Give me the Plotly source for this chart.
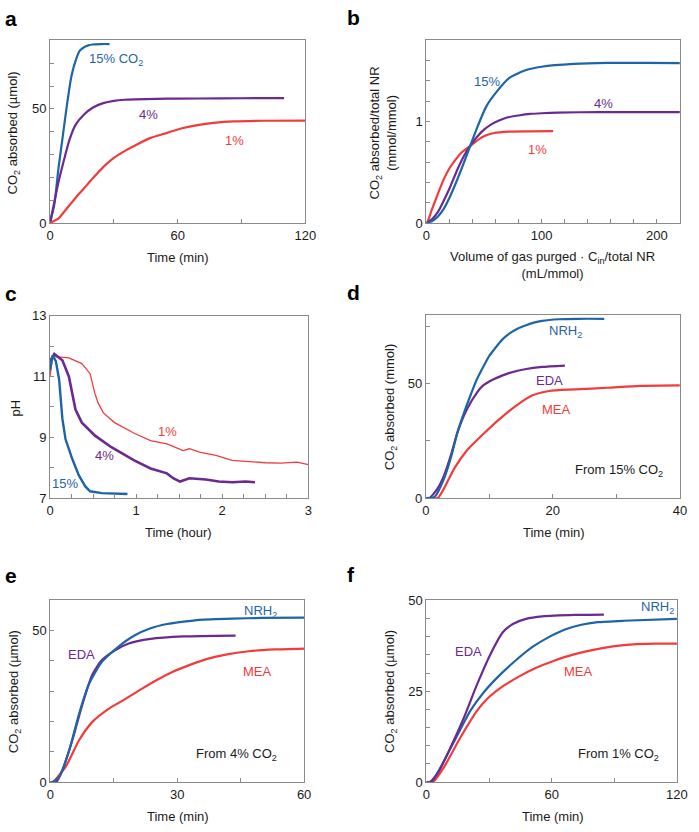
import plotly.graph_objects as go

W, H = 699, 832
BLUE = "#1f64a6"
PURPLE = "#6a2a8f"
RED = "#f23b3b"
FONT = "Liberation Sans, Arial, sans-serif"

# ---------------- Panel a ----------------
a_t15 = [0, 2, 4, 6, 8, 10, 12, 14, 16, 18, 20, 24, 28]
a_v15 = [0, 8, 24, 38, 52, 64, 71, 75.5, 77, 77.8, 78.2, 78.4, 78.4]
a_t4 = [0, 2, 4, 6, 9, 12, 16, 20, 25, 30, 35, 40, 50, 60, 80, 100, 110]
a_v4 = [0, 9, 18, 25.5, 36, 43, 47.5, 50.5, 52.5, 53.5, 54, 54.2, 54.4, 54.5, 54.6, 54.7, 54.7]
a_t1 = [0, 4, 8, 12, 16, 20, 25, 30, 35, 40, 47, 55, 62, 70, 78, 86, 100, 120]
a_v1 = [0, 2, 6.5, 11, 15.2, 19.5, 24.5, 28.5, 31.5, 34, 37.2, 39.5, 41.5, 43, 44, 44.5, 44.8, 44.9]

# ---------------- Panel b ----------------
b_x15 = [0, 5, 10, 15, 20, 25, 30, 38, 44, 52, 60, 72, 86, 100, 128, 157, 190, 220]
b_y15 = [0, 0.02, 0.065, 0.14, 0.25, 0.38, 0.52, 0.76, 0.94, 1.15, 1.28, 1.43, 1.505, 1.54, 1.568, 1.578, 1.578, 1.575]
b_x4 = [0, 5, 10, 15, 20, 27, 33, 38, 44, 50, 56, 63, 70, 80, 90, 100, 114, 150, 220]
b_y4 = [0, 0.04, 0.11, 0.22, 0.34, 0.53, 0.67, 0.76, 0.85, 0.92, 0.97, 1.01, 1.04, 1.06, 1.075, 1.082, 1.088, 1.094, 1.094]
b_x1 = [0, 2, 4, 7, 10, 15, 20, 25, 30, 38, 46, 52, 58, 72, 90, 110]
b_y1 = [0, 0.04, 0.11, 0.2, 0.29, 0.43, 0.54, 0.62, 0.69, 0.76, 0.83, 0.865, 0.885, 0.9, 0.903, 0.905]

# ---------------- Panel c ----------------
c_t15 = [0, 0.03, 0.068, 0.106, 0.144, 0.18, 0.258, 0.334, 0.41, 0.466, 0.6, 0.79, 0.9]
c_p15 = [11.2, 11.69, 11.5, 10.9, 9.6, 8.94, 8.29, 7.75, 7.38, 7.22, 7.16, 7.13, 7.13]
c_t4 = [0, 0.05, 0.144, 0.22, 0.258, 0.296, 0.37, 0.523, 0.713, 0.978, 1.168, 1.358, 1.43, 1.51,
        1.62, 1.81, 1.96, 2.12, 2.27, 2.38]
c_p4 = [11.5, 11.74, 11.53, 10.99, 10.45, 9.91, 9.48, 9.05, 8.67, 8.24, 7.97, 7.81, 7.65, 7.54,
        7.65, 7.61, 7.54, 7.52, 7.54, 7.52]
c_t1 = [0, 0.03, 0.22, 0.37, 0.466, 0.52, 0.56, 0.62, 0.75, 0.978, 1.168, 1.358, 1.547, 1.62,
        1.737, 1.926, 2.116, 2.306, 2.5, 2.68, 2.87, 3.0]
c_p1 = [11.0, 11.66, 11.61, 11.42, 11.09, 10.45, 10.12, 9.8, 9.48, 9.13, 8.89, 8.78, 8.56, 8.62,
        8.51, 8.4, 8.24, 8.19, 8.16, 8.15, 8.18, 8.1]

# ---------------- Panel d ----------------
d_tN = [0, 1.4, 2.9, 4, 5, 6, 7, 8, 9.1, 10, 11.1, 12, 13.2, 14.5, 15.8, 17, 18.3, 20.9, 24, 28.1]
d_vN = [0, 0.5, 8.6, 18, 28.7, 37, 44.5, 51.5, 57.5, 62, 66, 69, 71.8, 74, 75.4, 76.5, 77.3, 78, 78.2, 78.2]
d_tE = [0, 0.6, 1.9, 2.9, 4, 5, 6.5, 8.06, 9, 10.6, 12, 13.2, 15.8, 18.3, 21.9]
d_vE = [0, 0, 4.3, 10, 19, 28.7, 38.8, 46, 49, 51.7, 53.4, 54.6, 56.3, 57.2, 57.8]
d_tM = [0, 1.9, 2.9, 4.5, 6.5, 9.1, 11.65, 14.2, 16.8, 19.4, 23.5, 28.6, 33.7, 40]
d_vM = [0, 0, 4.3, 12.9, 20.8, 28, 34.5, 40.2, 44.8, 46.7, 47.4, 48.1, 48.9, 49.1]

# ---------------- Panel e ----------------
e_tN = [0, 0.6, 2.2, 4.5, 6.8, 9.1, 12.2, 16, 19.9, 23.7, 27.6, 31.5, 35.3, 43, 50, 60]
e_vN = [0, 0, 1.9, 10.6, 22.5, 32.2, 39.7, 44.6, 48.4, 50.8, 52.2, 53, 53.6, 54, 54.2, 54.3]
e_tE = [0, 1.4, 2.9, 5.2, 7.6, 9.9, 12.2, 15.3, 18.4, 23.7, 31.5, 43.8]
e_vE = [0, 0, 4.1, 13.8, 25.7, 35.4, 40.3, 43.5, 45.7, 47.3, 48.1, 48.4]
e_tM = [0, 0.6, 3.7, 6.8, 9.9, 13.7, 17.6, 21.4, 25.3, 29.1, 33, 36.9, 41.5, 46.9, 53, 60]
e_vM = [0, 0, 5.2, 13.8, 19.8, 24.1, 27.3, 30.6, 33.8, 36.5, 38.7, 40.6, 42.1, 43.2, 43.8, 44.1]

# ---------------- Panel f ----------------
f_tE = [0, 1.6, 5.5, 11.7, 18, 24.2, 30.5, 36.7, 41.4, 47.7, 55.5, 71, 85]
f_vE = [0, 0, 2.5, 9.7, 17.8, 26.8, 35, 41.3, 43.5, 44.9, 45.6, 46, 46.1]
f_tN = [0, 2.3, 7, 14.8, 21, 27.3, 35.2, 43, 50.8, 58.6, 66.4, 74.2, 82, 94.5, 120]
f_vN = [0, 0, 4.3, 12.9, 19.6, 24.6, 29.5, 33.6, 37.2, 39.9, 42, 43.3, 44, 44.4, 44.9]
f_tM = [0, 3.1, 8.6, 16.4, 24.2, 28.9, 36.7, 44.5, 52.3, 60.2, 71, 83.6, 94.5, 110, 120]
f_vM = [0, 0, 4.3, 12.4, 19.6, 22.8, 26.4, 29.1, 31.4, 33.2, 35.2, 36.8, 37.7, 38.1, 38.1]

# ---------------- tick definitions (labelled ticks + minor tick step) ----------------
a_xt = [0, 60, 120]; a_xm = 30
a_yt = [0, 50]; a_ym = 10
b_xt = [0, 100, 200]; b_xm = 20
b_yt = [0, 1]; b_ym = 0.2
c_xt = [0, 1, 2, 3]; c_xm = 0.25
c_yt = [7, 9, 11, 13]; c_ym = 1
d_xt = [0, 20, 40]; d_xm = 10
d_yt = [0, 50]; d_ym = 25
e_xt = [0, 30, 60]; e_xm = 15
e_yt = [0, 50]; e_ym = 10
f_xt = [0, 60, 120]; f_xm = 30
f_yt = [0, 25, 50]; f_ym = 5


def px(x):
    return x / W


def py(y):
    return 1 - y / H


# panel pixel boxes (left, right, top, bottom)
boxes = {
    "a": (47, 308, 34, 220),
    "b": (431.7, 690.7, 34, 220),
    "c": (47, 311, 314.3, 500),
    "d": (431, 690.7, 313.3, 500),
    "e": (47.3, 306.7, 604.3, 789.3),
    "f": (431.7, 687.7, 604.3, 789.3),
}

fig = go.Figure()


def line(x, y, color, idx, width=2.2, shape="spline"):
    xa = "x" if idx == 1 else f"x{idx}"
    ya = "y" if idx == 1 else f"y{idx}"
    fig.add_trace(go.Scatter(x=x, y=y, mode="lines", xaxis=xa, yaxis=ya,
                             line=dict(color=color, width=width, shape=shape, smoothing=0.6),
                             showlegend=False, hoverinfo="skip"))


line(a_t15, a_v15, BLUE, 1); line(a_t4, a_v4, PURPLE, 1); line(a_t1, a_v1, RED, 1)
line(b_x1, b_y1, RED, 2); line(b_x4, b_y4, PURPLE, 2); line(b_x15, b_y15, BLUE, 2)
line(c_t1, c_p1, RED, 3, width=1.3, shape="linear")
line(c_t4, c_p4, PURPLE, 3, width=2.6, shape="linear")
line(c_t15, c_p15, BLUE, 3, width=2.4, shape="linear")
line(d_tM, d_vM, RED, 4); line(d_tE, d_vE, PURPLE, 4); line(d_tN, d_vN, BLUE, 4)
line(e_tM, e_vM, RED, 5); line(e_tE, e_vE, PURPLE, 5); line(e_tN, e_vN, BLUE, 5)
line(f_tM, f_vM, RED, 6); line(f_tN, f_vN, BLUE, 6); line(f_tE, f_vE, PURPLE, 6)


def axis(dom, rng, tv, mstep, anchor):
    return dict(domain=dom, range=rng, tickmode="array", tickvals=tv,
                ticktext=[f"{v:g}" for v in tv],
                ticks="inside", ticklen=4, tickcolor="#8a8a8a", tickwidth=1,
                minor=dict(ticks="inside", ticklen=4, tickcolor="#8a8a8a", tickwidth=1,
                           tick0=rng[0], dtick=mstep, showgrid=False),
                showline=True, linecolor="#8a8a8a", linewidth=1, mirror=True,
                showgrid=False, zeroline=False, anchor=anchor, fixedrange=True,
                tickfont=dict(family=FONT, size=13, color="#1a1a1a"))


specs = [
    ("a", [0, 120], a_xt, a_xm, [0, 80], a_yt, a_ym),
    ("b", [0, 220], b_xt, b_xm, [0, 1.8], b_yt, b_ym),
    ("c", [0, 3], c_xt, c_xm, [7, 13], c_yt, c_ym),
    ("d", [0, 40], d_xt, d_xm, [0, 80], d_yt, d_ym),
    ("e", [0, 60], e_xt, e_xm, [0, 60], e_yt, e_ym),
    ("f", [0, 120], f_xt, f_xm, [0, 50], f_yt, f_ym),
]
layout = {}
for i, (k, xr, xt, xm, yr, yt, ym) in enumerate(specs, start=1):
    l, r, t, b = boxes[k]
    xname = "xaxis" if i == 1 else f"xaxis{i}"
    yname = "yaxis" if i == 1 else f"yaxis{i}"
    layout[xname] = axis([px(l), px(r)], xr, xt, xm, "y" if i == 1 else f"y{i}")
    layout[yname] = axis([py(b), py(t)], yr, yt, ym, "x" if i == 1 else f"x{i}")

fig.update_layout(**layout)

ann = []


def txt(x, y, s, color="#1a1a1a", size=13, ref=None, angle=0, bold=False):
    d = dict(x=x, y=y, text=(f"<b>{s}</b>" if bold else s), showarrow=False,
             font=dict(family=FONT, size=size, color=color), textangle=angle,
             xanchor="center", yanchor="middle")
    if ref is None:
        d.update(xref="paper", yref="paper", x=px(x), y=py(y))
    else:
        d.update(xref=ref[0], yref=ref[1])
    ann.append(d)


# in-plot labels (data coordinates)
txt(30.8, 71.8, "15% CO<sub>2</sub>", BLUE, ref=("x", "y"))
txt(46.4, 47.4, "4%", PURPLE, ref=("x", "y"))
txt(86.6, 36.2, "1%", RED, ref=("x", "y"))
txt(52.3, 1.396, "15%", BLUE, ref=("x2", "y2"))
txt(154, 1.18, "4%", PURPLE, ref=("x2", "y2"))
txt(96, 0.724, "1%", RED, ref=("x2", "y2"))
txt(1.37, 9.18, "1%", RED, ref=("x3", "y3"))
txt(0.637, 8.4, "4%", PURPLE, ref=("x3", "y3"))
txt(0.18, 7.48, "15%", BLUE, ref=("x3", "y3"))
txt(22, 72.6, "NRH<sub>2</sub>", BLUE, ref=("x4", "y4"))
txt(19.4, 51.4, "EDA", PURPLE, ref=("x4", "y4"))
txt(20.6, 38.5, "MEA", RED, ref=("x4", "y4"))
txt(30.4, 11.8, "From 15% CO<sub>2</sub>", ref=("x4", "y4"))
txt(49.6, 56.5, "NRH<sub>2</sub>", BLUE, ref=("x5", "y5"))
txt(7.3, 42.2, "EDA", PURPLE, ref=("x5", "y5"))
txt(49, 36.5, "MEA", RED, ref=("x5", "y5"))
txt(43.9, 9.2, "From 4% CO<sub>2</sub>", ref=("x5", "y5"))
txt(110.5, 48, "NRH<sub>2</sub>", BLUE, ref=("x6", "y6"))
txt(20.3, 35.9, "EDA", PURPLE, ref=("x6", "y6"))
txt(72.7, 30.5, "MEA", RED, ref=("x6", "y6"))
txt(92.2, 7.7, "From 1% CO<sub>2</sub>", ref=("x6", "y6"))

# axis titles (paper pixel coordinates)
txt(178, 255, "Time (min)")
txt(10, 128, "CO<sub>2</sub> absorbed (µmol)", angle=-90)
txt(561, 263, "Volume of gas purged · C<sub>in</sub>/total NR<br>(mL/mmol)")
txt(387, 128, "CO<sub>2</sub> absorbed/total NR<br>(mmol/mmol)", angle=-90)
txt(178, 535, "Time (hour)")
txt(12, 408, "pH", angle=-90)
txt(561.7, 535, "Time (min)")
txt(395, 408, "CO<sub>2</sub> absorbed (mmol)", angle=-90)
txt(178, 824, "Time (min)")
txt(11, 697, "CO<sub>2</sub> absorbed (µmol)", angle=-90)
txt(560.7, 824, "Time (min)")
txt(395, 697, "CO<sub>2</sub> absorbed (µmol)", angle=-90)

# panel letters
for letter, x, y in [("a", 7, 12), ("b", 357, 11), ("c", 7, 292), ("d", 357, 291),
                     ("e", 7, 579), ("f", 355, 578)]:
    txt(x, y, letter, size=21, bold=True, color="#000000")

fig.update_layout(annotations=ann, width=W, height=H, autosize=False,
                  margin=dict(l=0, r=0, t=0, b=0),
                  paper_bgcolor="white", plot_bgcolor="white",
                  font=dict(family=FONT, size=13, color="#1a1a1a"))

fig.write_html(
    "out.html",
    config={"displayModeBar": False, "responsive": False, "staticPlot": True},
    post_script=("document.documentElement.style.margin='0';"
                 "document.documentElement.style.overflow='hidden';"
                 "document.body.style.margin='0';document.body.style.padding='0';"
                 "document.body.style.overflow='hidden';"),
)
